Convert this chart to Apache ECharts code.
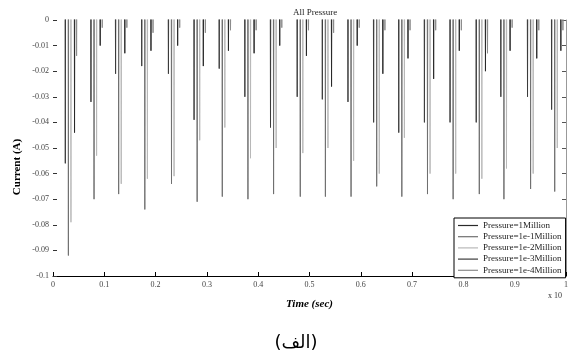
<!DOCTYPE html>
<html>
<head>
<meta charset="utf-8">
<script src="https://cdn.jsdelivr.net/npm/echarts@6/dist/echarts.min.js"></script>
<style>
html,body{margin:0;padding:0;background:#fff;}
#c{width:571px;height:354px;}
</style>
</head>
<body>
<div id="c"></div>
<script>
// Spike group times (sec, in axis units x10^-3)
var spikeTimes = [0.033, 0.083, 0.131, 0.182, 0.234, 0.284, 0.333, 0.383, 0.433, 0.485,
                  0.534, 0.584, 0.634, 0.683, 0.733, 0.783, 0.834, 0.882, 0.934, 0.981];
var seriesNames = ['Pressure=1Million', 'Pressure=1e-1Million', 'Pressure=1e-2Million',
                   'Pressure=1e-3Million', 'Pressure=1e-4Million'];
// per-series time shift of spikes inside each group
var timeShift = [0.009, -0.003, 0.002, -0.009, 0.013];
var baseline = 0.003;
var depthP0 = [-0.044, -0.010, -0.013, -0.012, -0.010, -0.018, -0.012, -0.013, -0.010, -0.014,
               -0.026, -0.010, -0.021, -0.015, -0.023, -0.012, -0.020, -0.012, -0.015, -0.012];
var depthP1 = [-0.092, -0.070, -0.068, -0.074, -0.064, -0.071, -0.069, -0.070, -0.068, -0.069,
               -0.069, -0.069, -0.065, -0.069, -0.068, -0.070, -0.068, -0.070, -0.066, -0.067];
var depthP2 = [-0.079, -0.053, -0.064, -0.062, -0.061, -0.047, -0.042, -0.054, -0.050, -0.052,
               -0.050, -0.055, -0.060, -0.046, -0.060, -0.060, -0.062, -0.058, -0.060, -0.050];
var depthP3 = [-0.056, -0.032, -0.021, -0.018, -0.021, -0.039, -0.019, -0.030, -0.042, -0.030,
               -0.031, -0.032, -0.040, -0.044, -0.040, -0.040, -0.040, -0.030, -0.030, -0.035];
var depthP4 = [-0.014, -0.003, -0.003, -0.005, -0.003, -0.005, -0.004, -0.004, -0.003, -0.004,
               -0.005, -0.003, -0.004, -0.004, -0.004, -0.004, -0.013, -0.003, -0.004, -0.004];
var depths = [depthP0, depthP1, depthP2, depthP3, depthP4];
var colors = ['#2a2a2a', '#707070', '#b8b8b8', '#3c3c3c', '#8c8c8c'];

function build(i) {
  var pts = [[0, baseline]];
  for (var k = 0; k < spikeTimes.length; k++) {
    var t = spikeTimes[k] + timeShift[i];
    pts.push([t - 0.0004, baseline]);
    pts.push([t, depths[i][k]]);
    pts.push([t + 0.0004, baseline]);
  }
  pts.push([1, baseline]);
  return pts;
}

var serif = 'Liberation Serif';
var chart = echarts.init(document.getElementById('c'));
var series = seriesNames.map(function (n, i) {
  return {
    name: n, type: 'line', data: build(i), showSymbol: false, symbol: 'none',
    lineStyle: { color: colors[i], width: 1 }, itemStyle: { color: colors[i] },
    animation: false, clip: true
  };
});
chart.setOption({
  animation: false,
  title: {
    text: 'All Pressure', left: 310, top: 3, textAlign: 'center',
    textStyle: { fontFamily: serif, fontSize: 9, fontWeight: 'normal', color: '#222' }
  },
  grid: { left: 53, right: 3, top: 20, bottom: 78 },
  legend: {
    orient: 'vertical', left: 454, top: 218,
    data: seriesNames, icon: 'rect', itemWidth: 20, itemHeight: 1.2, itemGap: 2.2,
    padding: [3, 4, 3, 4], borderColor: '#000', borderWidth: 1, backgroundColor: '#fff',
    textStyle: { fontFamily: serif, fontSize: 9, color: '#222', lineHeight: 8.6 }
  },
  xAxis: {
    type: 'value', min: 0, max: 1, interval: 0.1,
    name: 'Time (sec)', nameLocation: 'middle', nameGap: 23,
    nameTextStyle: { fontFamily: serif, fontSize: 11, fontWeight: 'bold', fontStyle: 'italic', color: '#000' },
    axisLine: { show: true, onZero: false, lineStyle: { color: '#000', width: 1 } },
    axisTick: { show: true, inside: true, length: 4, lineStyle: { color: '#000' } },
    axisLabel: { fontFamily: serif, fontSize: 8, color: '#444', margin: 5,
      formatter: function (v) { return String(+v.toFixed(1)); } },
    splitLine: { show: false }
  },
  yAxis: [{
    type: 'value', min: -0.1, max: 0, interval: 0.01,
    axisLine: { show: false, onZero: false },
    axisTick: { show: true, inside: true, length: 4, lineStyle: { color: '#333' } },
    axisLabel: { fontFamily: serif, fontSize: 8, color: '#444', margin: 4,
      formatter: function (v) { return String(+v.toFixed(2)); } },
    splitLine: { show: false }
  }, {
    type: 'value', min: -0.1, max: 0, interval: 0.01, position: 'right',
    axisLine: { show: true, onZero: false, lineStyle: { color: '#999', width: 1 } },
    axisTick: { show: true, inside: true, length: 4, lineStyle: { color: '#555' } },
    axisLabel: { show: false }, splitLine: { show: false }
  }],
  graphic: [
    { type: 'text', x: 17, y: 167, rotation: Math.PI / 2,
      style: { text: 'Current (A)', font: 'bold 11px "Liberation Serif"', fill: '#000',
        align: 'center', verticalAlign: 'middle' } },
    { type: 'text', left: 548, top: 292,
      style: { text: 'x 10', font: '8px "Liberation Serif"', fill: '#333' } },
    { type: 'text', x: 296, y: 343,
      style: { text: '(الف)', font: '18px "DejaVu Sans"', fill: '#000',
        align: 'center', verticalAlign: 'middle' } }
  ],
  series: series
});
</script>
</body>
</html>
